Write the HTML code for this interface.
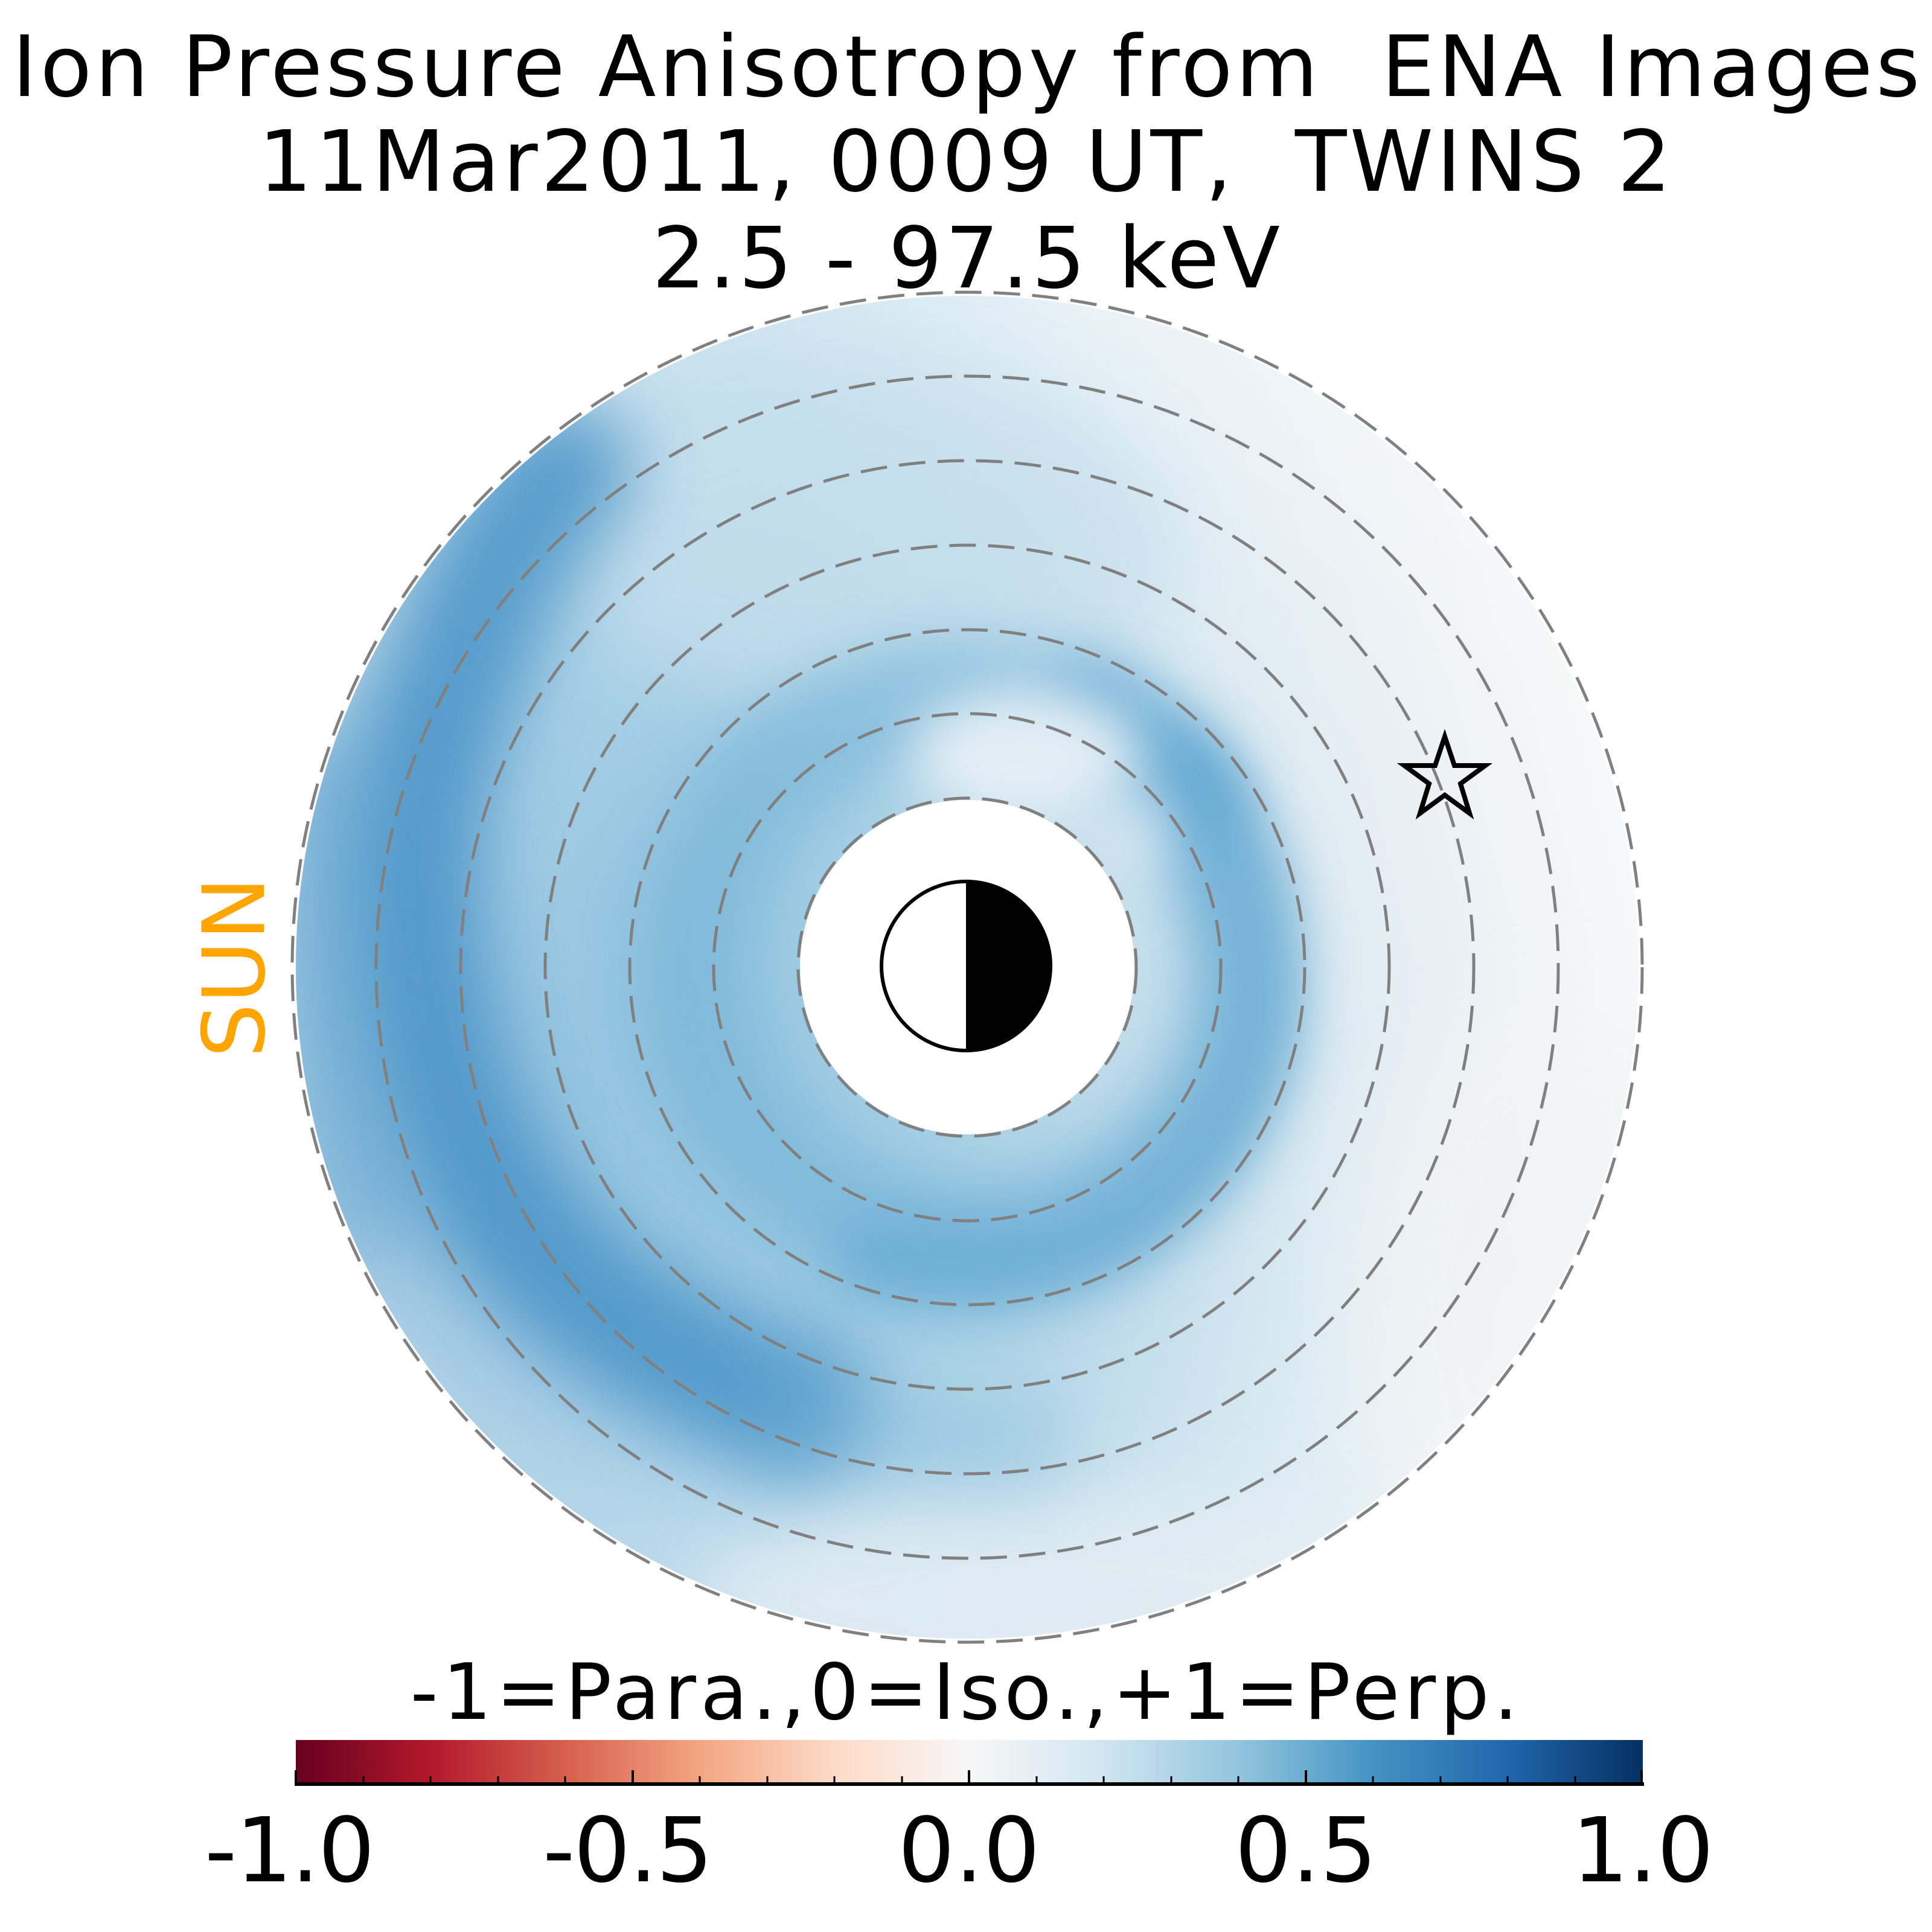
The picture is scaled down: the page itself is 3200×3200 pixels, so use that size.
<!DOCTYPE html>
<html><head><meta charset="utf-8"><style>html,body{margin:0;padding:0;background:#fff}svg{display:block}</style></head>
<body>
<svg width="3200" height="3200" viewBox="0 0 3200 3200" xmlns="http://www.w3.org/2000/svg" font-family="'DejaVu Sans','Liberation Sans',sans-serif">
<defs>
<clipPath id="disk"><circle cx="1602" cy="1602" r="1112"/></clipPath>
<linearGradient id="base" gradientUnits="userSpaceOnUse" x1="500" y1="1900" x2="2720" y2="1350">
<stop offset="0" stop-color="#5a9fcd"/><stop offset="0.22" stop-color="#8cc0de"/><stop offset="0.45" stop-color="#a6cfe4"/><stop offset="0.7" stop-color="#d6e7f0"/><stop offset="1" stop-color="#f2f3f4"/>
</linearGradient>
<radialGradient id="edge" gradientUnits="userSpaceOnUse" cx="1602" cy="1602" r="1112">
<stop offset="0.45" stop-color="#fff" stop-opacity="0"/><stop offset="1" stop-color="#fff" stop-opacity="0.45"/>
</radialGradient>
<filter id="b60" filterUnits="userSpaceOnUse" x="0" y="0" width="3200" height="3200"><feGaussianBlur stdDeviation="60"/></filter>
<filter id="b40" filterUnits="userSpaceOnUse" x="0" y="0" width="3200" height="3200"><feGaussianBlur stdDeviation="45"/></filter>
<linearGradient id="cb" x1="0" x2="1" y1="0" y2="0">
<stop offset="0" stop-color="#67001f"/><stop offset="0.1" stop-color="#b2182b"/><stop offset="0.2" stop-color="#d6604d"/><stop offset="0.3" stop-color="#f4a582"/><stop offset="0.4" stop-color="#fddbc7"/><stop offset="0.5" stop-color="#f7f7f7"/><stop offset="0.6" stop-color="#d1e5f0"/><stop offset="0.7" stop-color="#92c5de"/><stop offset="0.8" stop-color="#4393c3"/><stop offset="0.9" stop-color="#2166ac"/><stop offset="1" stop-color="#053061"/>
</linearGradient>
</defs>

<text x="1600" y="159" font-size="140" text-anchor="middle" textLength="3160" xml:space="preserve">Ion Pressure Anisotropy from  ENA Images</text>
<text x="1598" y="316" font-size="140" text-anchor="middle" textLength="2340" xml:space="preserve">11Mar2011, 0009 UT,  TWINS 2</text>
<text x="1600" y="476" font-size="140" text-anchor="middle" textLength="1040">2.5 - 97.5 keV</text>

<g clip-path="url(#disk)">
<rect x="480" y="480" width="2240" height="2240" fill="url(#base)"/>
<rect x="480" y="480" width="2240" height="2240" fill="url(#edge)"/>
<ellipse cx="1450" cy="900" rx="500" ry="280" fill="#c6dfed" opacity="0.7" filter="url(#b60)"/>
<ellipse cx="1750" cy="2650" rx="600" ry="180" fill="#e3edf3" opacity="0.8" filter="url(#b60)"/>
<!-- outer dark band on left -->
<path d="M 930 780 Q 820 900 760 1100 Q 650 1350 690 1600 Q 740 1980 1000 2170 Q 1150 2280 1320 2330" fill="none" stroke="#3f8ec4" stroke-width="230" stroke-linecap="round" opacity="0.8" filter="url(#b60)"/>
<path d="M 560 1300 Q 520 1700 620 2000" fill="none" stroke="#5fa3cf" stroke-width="160" stroke-linecap="round" opacity="0.55" filter="url(#b60)"/>
<path d="M 1320 2330 Q 1500 2400 1700 2400" fill="none" stroke="#7ab6d9" stroke-width="150" stroke-linecap="round" opacity="0.4" filter="url(#b60)"/>
<!-- inner ring -->
<circle cx="1602" cy="1602" r="450" fill="none" stroke="#74b3d8" stroke-width="190" opacity="0.6" filter="url(#b40)"/>
<path d="M 1950 1280 Q 2090 1460 2080 1700 Q 2040 1930 1800 2060 Q 1650 2120 1450 2080" fill="none" stroke="#62a8d3" stroke-width="140" stroke-linecap="round" opacity="0.7" filter="url(#b40)"/>
<path d="M 1800 1150 Q 1920 1200 2000 1330" fill="none" stroke="#5fa6d2" stroke-width="120" stroke-linecap="round" opacity="0.7" filter="url(#b40)"/>
<ellipse cx="1700" cy="1250" rx="190" ry="110" fill="#eaf2f7" opacity="0.9" filter="url(#b40)"/>
<ellipse cx="1880" cy="1380" rx="60" ry="70" fill="#e6f0f6" opacity="0.7" filter="url(#b40)"/>
<ellipse cx="2600" cy="2150" rx="350" ry="500" fill="#f3f4f4" opacity="0.6" filter="url(#b60)"/>
</g>

<circle cx="1602" cy="1602" r="277" fill="#fff"/>

<g fill="none" stroke="#808080" stroke-width="5" stroke-dasharray="44 20">
<circle cx="1602" cy="1602" r="280"/>
<circle cx="1602" cy="1602" r="420"/>
<circle cx="1602" cy="1602" r="559"/>
<circle cx="1602" cy="1602" r="699"/>
<circle cx="1602" cy="1602" r="839"/>
<circle cx="1602" cy="1602" r="979"/>
<circle cx="1602" cy="1602" r="1118"/>
</g>

<path d="M 1600 1458 A 142 142 0 0 1 1600 1742 Z" fill="#000"/>
<circle cx="1600" cy="1600" r="140" fill="none" stroke="#000" stroke-width="6"/>

<polygon points="2393,1220 2409,1268 2460,1268 2419,1298 2434,1347 2393,1317 2352,1347 2367,1298 2326,1268 2377,1268" fill="none" stroke="#000" stroke-width="8" stroke-linejoin="miter"/>

<text x="437" y="1602" font-size="142" fill="#FFA500" text-anchor="middle" transform="rotate(-90 437 1602)">SUN</text>

<text x="1597" y="2847" font-size="128" text-anchor="middle" textLength="1835">-1=Para.,0=Iso.,+1=Perp.</text>

<rect x="490" y="2882" width="2231" height="71" fill="url(#cb)"/>
<line x1="488" y1="2955" x2="2723" y2="2955" stroke="#000" stroke-width="6"/>
<g stroke="#000" stroke-width="4">
<line x1="490" y1="2955" x2="490" y2="2932"/><line x1="1048" y1="2955" x2="1048" y2="2932"/><line x1="1605" y1="2955" x2="1605" y2="2932"/><line x1="2163" y1="2955" x2="2163" y2="2932"/><line x1="2719" y1="2955" x2="2719" y2="2932"/>
</g>
<g stroke="#000" stroke-width="3">
<line x1="602" y1="2955" x2="602" y2="2942"/><line x1="713" y1="2955" x2="713" y2="2942"/><line x1="825" y1="2955" x2="825" y2="2942"/><line x1="936" y1="2955" x2="936" y2="2942"/>
<line x1="1159" y1="2955" x2="1159" y2="2942"/><line x1="1271" y1="2955" x2="1271" y2="2942"/><line x1="1382" y1="2955" x2="1382" y2="2942"/><line x1="1494" y1="2955" x2="1494" y2="2942"/>
<line x1="1717" y1="2955" x2="1717" y2="2942"/><line x1="1828" y1="2955" x2="1828" y2="2942"/><line x1="1940" y1="2955" x2="1940" y2="2942"/><line x1="2051" y1="2955" x2="2051" y2="2942"/>
<line x1="2274" y1="2955" x2="2274" y2="2942"/><line x1="2386" y1="2955" x2="2386" y2="2942"/><line x1="2497" y1="2955" x2="2497" y2="2942"/><line x1="2609" y1="2955" x2="2609" y2="2942"/>
</g>
<g font-size="148" text-anchor="middle">
<text x="480" y="3116" textLength="282">-1.0</text>
<text x="1040" y="3116" textLength="282">-0.5</text>
<text x="1605" y="3116">0.0</text>
<text x="2163" y="3116">0.5</text>
<text x="2721" y="3116">1.0</text>
</g>
</svg>
</body></html>
